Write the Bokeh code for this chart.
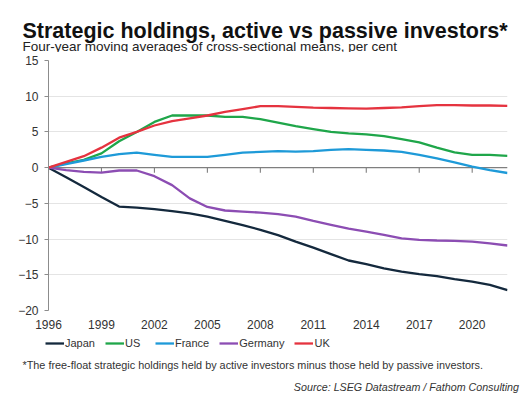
from bokeh.plotting import figure
from bokeh.layouts import column
from bokeh.models import (Legend, LegendItem, FixedTicker, Range1d, Span)
from bokeh.core.properties import value
from bokeh.embed import file_html
from bokeh.resources import INLINE

years = list(range(1996, 2023))
japan = [0, -1.35, -2.7, -4.1, -5.45, -5.6, -5.8, -6.1, -6.4, -6.85, -7.45, -8.05, -8.7, -9.45,
         -10.35, -11.2, -12.1, -13.0, -13.5, -14.1, -14.55, -14.9, -15.2, -15.6, -15.95, -16.4, -17.15]
us = [0, 0.6, 1.1, 2.0, 3.7, 5.0, 6.4, 7.3, 7.3, 7.3, 7.1, 7.1, 6.8, 6.3, 5.8, 5.4, 5.0, 4.8,
      4.65, 4.4, 4.0, 3.55, 2.8, 2.15, 1.8, 1.8, 1.65]
france = [0, 0.5, 1.0, 1.5, 1.9, 2.1, 1.8, 1.5, 1.5, 1.5, 1.8, 2.1, 2.2, 2.3, 2.25, 2.3, 2.5, 2.6,
          2.5, 2.4, 2.2, 1.8, 1.3, 0.75, 0.15, -0.35, -0.75]
germany = [0, -0.35, -0.6, -0.7, -0.4, -0.4, -1.2, -2.45, -4.3, -5.5, -6.0, -6.15, -6.3, -6.5,
           -6.85, -7.45, -8.0, -8.55, -8.95, -9.4, -9.9, -10.1, -10.2, -10.25, -10.35, -10.6, -10.9]
uk = [0, 0.8, 1.6, 2.8, 4.2, 5.0, 5.9, 6.5, 6.9, 7.3, 7.8, 8.2, 8.6, 8.6, 8.5, 8.4, 8.35, 8.3,
      8.25, 8.35, 8.45, 8.6, 8.75, 8.75, 8.7, 8.7, 8.65]

series_names = ["Japan", "US", "France", "Germany", "UK"]
series_values = [japan, us, france, germany, uk]
series_colors = ["#14293d", "#1fa64a", "#1e9ad8", "#8c4db3", "#e5333f"]

x_ticks = [1996, 1999, 2002, 2005, 2008, 2011, 2014, 2017, 2020]
y_ticks = [-20, -15, -10, -5, 0, 5, 10, 15]

title_text = "Strategic holdings, active vs passive investors*"
subtitle_text = "Four-year moving averages of cross-sectional means, per cent"
footnote_text = "*The free-float strategic holdings held by active investors minus those held by passive investors."
source_text = "Source: LSEG Datastream / Fathom Consulting"

FONT = "Liberation Sans"
TXT = "#333333"
AXIS = "#7f7f7f"


def text_panel(height, y_top):
    f = figure(width=526, height=height, output_backend="svg", toolbar_location=None,
               x_range=Range1d(0, 526), y_range=Range1d(y_top + height, y_top), title=None,
               x_axis_location=None, y_axis_location=None,
               min_border_left=0, min_border_right=0, min_border_top=0, min_border_bottom=0)
    f.outline_line_color = None
    f.grid.grid_line_color = None
    f.border_fill_color = "white"
    try:
        f.frame_align = False
    except Exception:
        pass
    return f


# ---- header: title and subtitle (page-pixel coordinates, y downward)
header = text_panel(52, 0)
header.text(x=[22], y=[30], text=[title_text], text_font=value(FONT),
            text_font_size="21.5px", text_font_style="bold", text_color="#111111",
            text_baseline="alphabetic", text_align="left")
header.text(x=[22], y=[46], text=[subtitle_text], text_font=value(FONT),
            text_font_size="13.5px", text_color="#222222",
            text_baseline="alphabetic", text_align="left")

# ---- main chart
p = figure(width=526, height=281, output_backend="svg", toolbar_location=None,
           x_range=Range1d(1996, 2022), y_range=Range1d(-20, 15), title=None,
           min_border_left=48, min_border_right=19, min_border_top=8, min_border_bottom=23)
p.outline_line_color = None
p.background_fill_color = "white"

p.add_layout(Span(location=0, dimension="width", line_color=AXIS, line_width=1.2, level="underlay"))
p.segment(x0=x_ticks, y0=[0] * len(x_ticks), x1=x_ticks, y1=[-0.7] * len(x_ticks),
          line_color=AXIS, line_width=1.1, level="underlay")

for name, vals, col in zip(series_names, series_values, series_colors):
    p.line(years, vals, line_color=col, line_width=2.3)

p.xgrid.grid_line_color = None
p.ygrid.ticker = FixedTicker(ticks=y_ticks)
p.ygrid.grid_line_color = "#e4e4e4"

ya = p.yaxis[0]
ya.ticker = FixedTicker(ticks=y_ticks)
ya.axis_line_color = "#8c8c8c"
ya.major_tick_line_color = "#8c8c8c"
ya.major_tick_out = 4
ya.major_tick_in = 0
ya.minor_tick_line_color = None
ya.major_label_standoff = 6
ya.major_label_text_font = FONT
ya.major_label_text_font_size = "12px"
ya.major_label_text_color = TXT

xa = p.xaxis[0]
xa.ticker = FixedTicker(ticks=x_ticks)
xa.axis_line_color = None
xa.major_tick_line_color = None
xa.minor_tick_line_color = None
xa.major_tick_out = 0
xa.major_tick_in = 0
xa.major_label_standoff = 9
xa.major_label_text_font = FONT
xa.major_label_text_font_size = "12px"
xa.major_label_text_color = TXT

# ---- footer: legend, footnote and source (page-pixel coordinates, y downward)
footer = text_panel(64, 333)
items = []
for name, col in zip(series_names, series_colors):
    r = footer.line(x=[float("nan")], y=[float("nan")], line_color=col, line_width=2.3)
    items.append(LegendItem(label=name, renderers=[r]))
legend = Legend(items=items, orientation="horizontal", location=(45, 47),
                label_text_font=FONT, label_text_font_size="11px", label_text_color=TXT,
                glyph_width=19, glyph_height=14, label_height=14, label_standoff=1,
                spacing=10, padding=0, margin=0, border_line_color=None,
                background_fill_alpha=0)
footer.add_layout(legend, "center")
footer.text(x=[22], y=[364], text=[footnote_text], text_font=value(FONT),
            text_font_size="10.85px", text_color=TXT,
            text_baseline="alphabetic", text_align="left")
footer.text(x=[518.5], y=[386], text=[source_text], text_font=value(FONT),
            text_font_size="10.7px", text_font_style="italic", text_color=TXT,
            text_baseline="alphabetic", text_align="right")

open("out.html", "w").write(file_html(column(header, p, footer), INLINE))
